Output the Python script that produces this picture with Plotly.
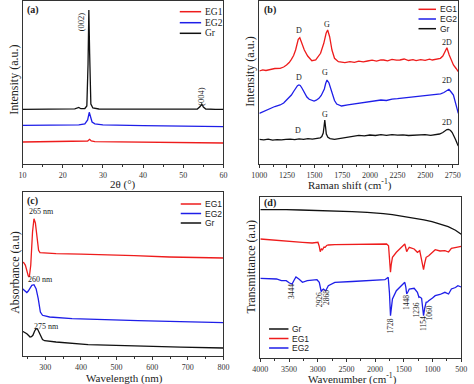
import plotly.graph_objects as go

# ---------------- data ----------------
# (a) XRD
a_gr_x = [10, 15, 20, 23, 24, 24.5, 25.5, 26.0, 26.3, 26.5, 26.7, 27.0, 27.5, 29, 35, 45, 53.5, 54.2, 54.6, 55.0, 55.6, 58, 60]
a_gr_y = [54.7, 54.8, 54.8, 55.2, 56.5, 55.3, 55.5, 58, 100, 154, 110, 60, 56, 55, 54.8, 54.7, 55, 57.5, 60, 57, 55, 54.7, 54.6]
a_eg2_x = [10, 15, 20, 24, 25.5, 26.2, 26.6, 26.9, 27.3, 28, 30, 40, 50, 60]
a_eg2_y = [38.6, 38.8, 38.8, 39.2, 40.2, 44, 51.7, 46, 42, 40.2, 39.2, 38.3, 37.8, 37.3]
a_eg1_x = [10, 20, 25, 26.2, 26.7, 27.1, 28, 35, 45, 60]
a_eg1_y = [22, 22.2, 22.4, 23, 24.7, 23, 22.3, 21.9, 21.5, 21]

# (b) Raman
b_eg1_x = [1000, 1030, 1060, 1100, 1140, 1188, 1220, 1246, 1270, 1290, 1310, 1328, 1352, 1366, 1384,
           1407, 1437, 1475, 1510, 1554, 1583, 1604, 1618, 1636, 1657, 1680, 1715, 1750, 1774, 1820,
           1860, 1900, 1940, 1979, 2020, 2060, 2100, 2125, 2160, 2200, 2240, 2272, 2310, 2350, 2390,
           2418, 2460, 2500, 2540, 2565, 2600, 2638, 2660, 2676, 2697, 2718, 2740, 2756, 2780, 2800]
b_eg1_y = [93, 94.2, 93.5, 94.5, 95.5, 95.7, 97, 99, 101.5, 104.7, 108.5, 114, 124.7, 126.3, 121.3,
           114, 108, 103.3, 104, 110.7, 120.7, 130.7, 134, 127.3, 114, 105.7, 102.3, 101.5, 101.3, 102.3,
           101.6, 102.8, 102.2, 103, 103.8, 102.9, 104.2, 104, 103.2, 104.6, 103.8, 104, 105, 103.5, 104.3,
           103.3, 104.4, 103.6, 104.8, 104, 104.5, 105.7, 108, 112.3, 116.3, 109, 103, 99, 95.5, 92.3]
b_eg2_x = [1000, 1040, 1070, 1100, 1140, 1188, 1220, 1246, 1270, 1290, 1310, 1328, 1345, 1358, 1370,
           1385, 1407, 1430, 1451, 1475, 1495, 1515, 1539, 1560, 1574, 1588, 1600, 1612, 1630, 1645,
           1662, 1680, 1700, 1744, 1800, 1850, 1900, 1950, 2000, 2050, 2100, 2150, 2200, 2250, 2300,
           2350, 2400, 2450, 2500, 2550, 2600, 2640, 2670, 2697, 2715, 2735, 2756, 2776, 2790, 2800]
b_eg2_y = [50.7, 52.5, 54.5, 55.7, 57.5, 59, 61, 64, 66.5, 69, 72.5, 75.7, 78.3, 79, 78.5,
           76, 71.3, 67, 64.7, 63.5, 63, 63.8, 65.7, 68.5, 71.3, 75, 80.5, 84, 81, 76,
           69, 63.5, 60, 58, 59.2, 60, 60.8, 61.2, 62.3, 62.8, 64, 63.5, 64.8, 65.3, 65.9,
           66.2, 66.8, 67.6, 68, 68.6, 69, 70.2, 71.5, 74, 74.7, 72, 69, 60.7, 55, 50.7]
b_gr_x = [1000, 1040, 1080, 1120, 1160, 1200, 1240, 1280, 1320, 1360, 1400, 1440, 1480, 1520, 1550,
          1565, 1578, 1586, 1592, 1598, 1606, 1620, 1640, 1680, 1720, 1760, 1800, 1850, 1900, 1950,
          2000, 2050, 2100, 2150, 2200, 2250, 2300, 2350, 2400, 2450, 2500, 2550, 2600, 2630, 2660,
          2680, 2697, 2712, 2730, 2745, 2760, 2775, 2790, 2800]
b_gr_y = [24.7, 24.2, 24.8, 23.9, 24.4, 24.1, 24.6, 24.9, 24.3, 25.2, 24.7, 25.3, 24.9, 25.4, 26,
          27.5, 31, 38, 44, 38, 30, 26.7, 25.4, 24.7, 25.5, 26.3, 27.3, 27.8, 28.6, 28.2,
          29, 28.5, 29.3, 28.7, 29.4, 28.8, 29.2, 28.5, 29, 28.8, 29.3, 28.7, 29.2, 30, 31.5,
          33.5, 34.5, 34.7, 33.5, 31.5, 28.5, 24.5, 20.5, 18]

# (c) UV-vis
c_eg1_x = [236, 240, 244, 248, 252, 255, 259, 264, 268, 272, 276, 281, 285, 300, 330, 400, 466, 550, 648, 720, 800]
c_eg1_y = [94, 93, 90.7, 85, 80, 79, 90.7, 124, 137.3, 133, 122, 105.7, 103.3, 102.8, 102.3, 101.8, 101.3, 100.3, 99, 98.5, 98]
c_eg2_x = [236, 240, 244, 248, 252, 256, 262, 268, 274, 280, 286, 292, 300, 312, 375, 466, 560, 648, 800]
c_eg2_y = [67.3, 66, 64.7, 63.5, 65, 67.3, 70.7, 71.3, 67.3, 57.3, 44, 40.7, 39.8, 39, 37.3, 36, 35.3, 34.7, 33.3]
c_gr_x = [236, 242, 248, 253, 257, 261, 265, 270, 274, 278, 282, 287, 292, 298, 330, 420, 557, 680, 800]
c_gr_y = [24.7, 23.8, 22.3, 20.5, 19, 19.3, 20.7, 25, 27.3, 27, 24, 19, 16.5, 15.3, 14, 11.3, 9.7, 8.8, 8]

# (d) FTIR
d_gr_x = [4000, 3800, 3548, 3300, 3000, 2702, 2400, 2138, 2000, 1856, 1700, 1574, 1450, 1291, 1150, 1009, 870, 727, 600, 500]
d_gr_y = [148.3, 148.6, 148.3, 148.0, 147.6, 147, 146.4, 145.7, 145.2, 144.3, 143.3, 142.3, 141.2, 139.7, 138.2, 136.3, 134, 131.3, 127.8, 123.7]
d_eg1_x = [4000, 3800, 3548, 3266, 3097, 2996, 2975, 2956, 2935, 2917, 2890, 2871, 2845, 2815, 2702,
           2400, 2138, 1950, 1800, 1766, 1745, 1732, 1720, 1698, 1630, 1560, 1517, 1483, 1465, 1450,
           1430, 1405, 1320, 1263, 1223, 1190, 1170, 1156, 1135, 1111, 1066, 1000, 953, 870, 784,
           720, 671, 586, 500]
d_eg1_y = [119, 118.3, 117.3, 115.7, 115, 115.7, 112, 106.3, 109, 108.3, 111, 110.7, 112.5, 113, 113.3,
           113.7, 114, 114, 114, 112.3, 100, 85.7, 93, 100.7, 105.7, 109.5, 112.3, 114, 110, 106.3,
           108.5, 110.7, 109, 105.7, 107.3, 99, 93, 88.3, 95, 100.7, 102.3, 106, 108.3, 107, 107.3,
           106, 109.7, 110.7, 111.7]
d_eg2_x = [4000, 3800, 3718, 3633, 3548, 3492, 3446, 3410, 3379, 3323, 3266, 3182, 3013, 2973, 2939,
           2920, 2900, 2880, 2860, 2815, 2702, 2400, 2138, 1950, 1828, 1772, 1750, 1732, 1715, 1698,
           1630, 1560, 1517, 1483, 1465, 1450, 1430, 1405, 1320, 1263, 1236, 1223, 1190, 1170, 1156,
           1135, 1111, 1085, 1066, 1000, 953, 870, 784, 720, 671, 600, 558, 500]
d_eg2_y = [79.7, 79.3, 79, 77.3, 77.3, 75, 74, 78, 81, 78.7, 75.7, 77.3, 78.3, 75.7, 66.3,
           68, 69, 68, 67.3, 72.3, 75.7, 76.5, 77.3, 78, 78.3, 80.7, 65, 42.3, 50, 59,
           67.3, 71.5, 74, 75.7, 71, 64, 66, 69, 69.7, 65.7, 60.7, 61, 59.7, 50, 42.3,
           50, 55.7, 56, 57.3, 60, 62.3, 63.5, 65.7, 64, 69, 70.5, 72.3, 71]

# peak labels
a_labels = [("(002)", 24.6, 142), ("(004)", 54.4, 68)]
b_labels = [("D", 1363, 133), ("G", 1612, 139), ("2D", 2697, 121),
            ("D", 1363, 86), ("G", 1598, 91), ("2D", 2697, 83),
            ("D", 1349, 34), ("G", 1592, 49), ("2D", 2697, 41)]
c_labels = [("265 nm", 289, 145), ("260 nm", 285, 77), ("275 nm", 302, 30)]
d_labels = [("3444", 3464, 66), ("2926", 2975, 58), ("2868", 2855, 60), ("1728", 1732, 32),
            ("1448", 1461, 55), ("1236", 1280, 48), ("1154", 1167, 35), ("1060", 1054, 45)]

RED = "#ee1c1c"
BLUE = "#1e1ee8"
BLACK = "#111111"
SERIF = "Liberation Serif, Times New Roman, serif"
SANS = "Liberation Sans, Arial, sans-serif"
W, H = 474, 384

fig = go.Figure()


def add(x, y, color, name, ax):
    fig.add_trace(go.Scatter(x=x, y=y, mode="lines", name=name, showlegend=False,
                             line=dict(color=color, width=1.3),
                             xaxis="x" + ax, yaxis="y" + ax))


add(a_gr_x, a_gr_y, BLACK, "Gr", "")
add(a_eg2_x, a_eg2_y, BLUE, "EG2", "")
add(a_eg1_x, a_eg1_y, RED, "EG1", "")
add(b_gr_x, b_gr_y, BLACK, "Gr", "2")
add(b_eg2_x, b_eg2_y, BLUE, "EG2", "2")
add(b_eg1_x, b_eg1_y, RED, "EG1", "2")
add(c_gr_x, c_gr_y, BLACK, "Gr", "3")
add(c_eg2_x, c_eg2_y, BLUE, "EG2", "3")
add(c_eg1_x, c_eg1_y, RED, "EG1", "3")
add(d_gr_x, d_gr_y, BLACK, "Gr", "4")
add(d_eg1_x, d_eg1_y, RED, "EG1", "4")
add(d_eg2_x, d_eg2_y, BLUE, "EG2", "4")


def px(x):
    return x / W


def py(y):
    return 1 - y / H


def xax(dom, rng, dtick, minor, anchor, tick0=0):
    return dict(domain=dom, range=rng, anchor=anchor, showline=True, mirror=True,
                linecolor="#333", linewidth=1, ticks="outside", ticklen=3, tickcolor="#333",
                tick0=tick0, dtick=dtick, showgrid=False, zeroline=False,
                tickfont=dict(family=SERIF, size=8, color="#333"),
                minor=dict(ticks="outside", ticklen=2, dtick=minor, tick0=tick0, tickcolor="#333"))


def yax(dom, rng, anchor):
    return dict(domain=dom, range=rng, anchor=anchor, showline=True, mirror=True,
                linecolor="#333", linewidth=1, ticks="", showticklabels=False,
                showgrid=False, zeroline=False)


dxa = [px(15), px(222)]
dxb = [px(259), px(464)]
dxd = [px(260), px(467)]
dya = [py(164), py(1)]
dyc = [py(356), py(192)]
dyd = [py(358), py(197)]

annotations = []
shapes = []


def text(t, x, y, size, family=SERIF, xanchor="center", angle=0, xref="paper", yref="paper", bold=False):
    if bold:
        t = "<b>" + t + "</b>"
    annotations.append(dict(text=t, x=x, y=y, xref=xref, yref=yref, showarrow=False,
                            xanchor=xanchor, yanchor="middle", textangle=angle,
                            font=dict(family=family, size=size, color="#222")))


# axis titles
text("2θ (°)", px(119), py(185), 11)
text("Intensity (a.u.)", px(6), py(80), 12, angle=-90)
text("Raman shift (cm<sup>-1</sup>)", px(352), py(185), 11)
text("Intensity (a.u.)", px(249), py(72), 12, angle=-90)
text("Wavelength (nm)", px(120), py(378), 11)
text("Absorbance (a.u)", px(7), py(272), 12, angle=-90)
text("Wavenumber (cm<sup>-1</sup>)", px(355), py(378), 11)
text("Transmittance (a.u)", px(250), py(267), 12, angle=-90)

# panel tags
text("(a)", px(18), py(10), 10, xanchor="left", bold=True)
text("(b)", px(262), py(10), 10, xanchor="left", bold=True)
text("(c)", px(18), py(201), 10, xanchor="left", bold=True)
text("(d)", px(262), py(203), 10, xanchor="left", bold=True)

# peak labels
for t, x, y in a_labels:
    text(t, x, y, 8.5, angle=-90, xref="x", yref="y")
for t, x, y in b_labels:
    text(t, x, y, 8, xref="x2", yref="y2")
for t, x, y in c_labels:
    text(t, x, y, 8, xref="x3", yref="y3")
for t, x, y in d_labels:
    text(t, x, y, 7.5, angle=-90, xref="x4", yref="y4")

# legends (line key + label) per panel
legends = [
    ([("EG1", RED), ("EG2", BLUE), ("Gr", BLACK)], 177, 199, [11.7, 22.7, 33.3], SERIF, 9.5),
    ([("EG1", RED), ("EG2", BLUE), ("Gr", BLACK)], 423, 441, [9.3, 19, 28.7], SANS, 8.5),
    ([("EG1", RED), ("EG2", BLUE), ("Gr", BLACK)], 178, 199, [204, 213.5, 223], SANS, 8.5),
    ([("Gr", BLACK), ("EG1", RED), ("EG2", BLUE)], 269, 289, [329, 338.5, 348], SANS, 8.5),
]
for items, x0, x1, ys, fam, fs in legends:
    for (name, col), yy in zip(items, ys):
        shapes.append(dict(type="line", xref="paper", yref="paper", x0=px(x0), x1=px(x1),
                           y0=py(yy), y1=py(yy), line=dict(color=col, width=1.5)))
        text(name, px(x1 + 2), py(yy), fs, family=fam, xanchor="left")

fig.update_layout(
    width=W, height=H, margin=dict(l=0, r=0, t=0, b=0),
    paper_bgcolor="white", plot_bgcolor="white", showlegend=False,
    xaxis=xax(dxa, [10, 60], 10, 5, "y"),
    yaxis=yax(dya, [0, 163], "x"),
    xaxis2=xax(dxb, [1000, 2800], 250, 125, "y2", tick0=1000),
    yaxis2=yax(dya, [0, 163], "x2"),
    xaxis3=xax(dxa, [236, 800], 100, 50, "y3"),
    yaxis3=yax(dyc, [0, 164], "x3"),
    xaxis4=xax(dxd, [4000, 500], 500, 250, "y4"),
    yaxis4=yax(dyd, [0, 161], "x4"),
    annotations=annotations, shapes=shapes,
)

fig.write_html("out.html", config={"displayModeBar": False},
               post_script="document.body.style.margin='0';document.body.style.overflow='hidden';")
